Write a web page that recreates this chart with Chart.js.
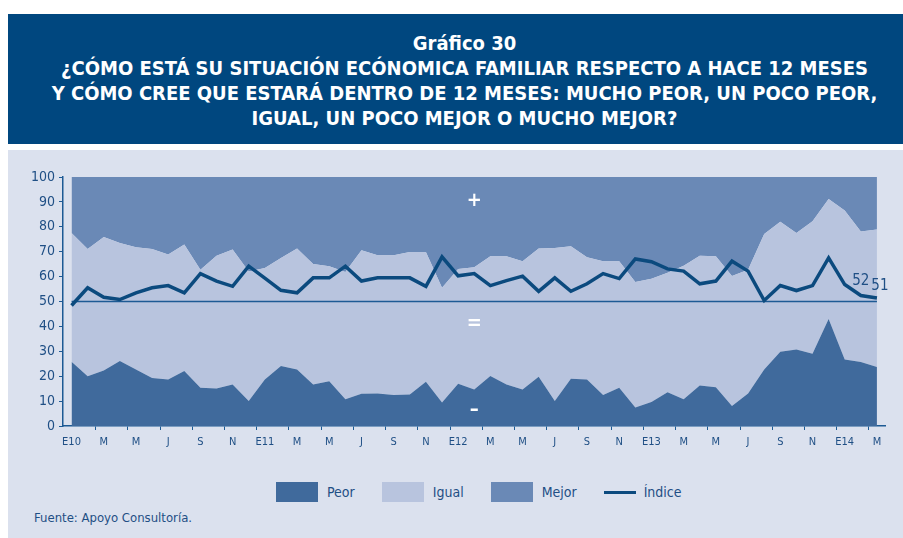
<!DOCTYPE html>
<html>
<head>
<meta charset="utf-8">
<script src="https://cdn.jsdelivr.net/npm/chart.js@4.4.1/dist/chart.umd.min.js"></script>
<style>
  body { margin: 0; background: #ffffff; width: 903px; height: 538px; position: relative; overflow: hidden;
    font-family: "Liberation Sans Narrow", "DejaVu Sans Condensed", "Roboto", sans-serif; font-stretch: condensed; }
  #titleBox { position: absolute; left: 8px; top: 14px; width: 895px; height: 130px; background: #00477f;
    color: #ffffff; font-weight: bold; font-size: 20px; line-height: 25px; text-align: center;
    box-sizing: border-box; padding: 17px 0 0 18px; }
  #panel { position: absolute; left: 8px; top: 150px; width: 895px; height: 388px; background: #dbe1ee; }
  #chartBox { position: absolute; left: 0; top: 150px; width: 903px; height: 320px; }
  #legend { position: absolute; top: 482px; left: 276px; display: flex; align-items: center; font-size: 14px; color: #1f4f85; }
  .item { display: flex; align-items: center; margin-right: 27px; }
  .swatch { width: 42px; height: 20px; margin-right: 9px; }
  .lineSwatch { width: 32px; height: 3px; margin-right: 8px; }
  #source { position: absolute; left: 34px; top: 510px; font-size: 13px; color: #1f4f85; }
</style>
</head>
<body>
<div id="titleBox">
  Gráfico 30<br>
  ¿CÓMO ESTÁ SU SITUACIÓN ECÓNOMICA FAMILIAR RESPECTO A HACE 12 MESES<br>
  Y CÓMO CREE QUE ESTARÁ DENTRO DE 12 MESES: MUCHO PEOR, UN POCO PEOR,<br>
  IGUAL, UN POCO MEJOR O MUCHO MEJOR?
</div>
<div id="panel"></div>
<div id="chartBox"><canvas id="surveyChart"></canvas></div>
<div id="legend"></div>
<div id="source">Fuente: Apoyo Consultoría.</div>
<script>
// months from January 2010 to March 2014 (E = enero)
const months = [
  'E10','F','M','A','M','J','J','A','S','O','N','D',
  'E11','F','M','A','M','J','J','A','S','O','N','D',
  'E12','F','M','A','M','J','J','A','S','O','N','D',
  'E13','F','M','A','M','J','J','A','S','O','N','D',
  'E14','F','M'
];
// shares of answers, in percent
const peor = [
  25.8, 20.0, 22.3, 26.1, 22.7, 19.3, 18.7, 22.1, 15.4, 15.1, 16.7, 10.0,
  18.7, 24.1, 22.7, 16.7, 18.0, 10.7, 13.0, 13.1, 12.4, 12.7, 17.8, 9.4,
  17.0, 14.7, 20.1, 16.7, 14.7, 19.8, 10.0, 19.0, 18.7, 12.4, 15.4, 7.4,
  9.6, 13.6, 10.7, 16.3, 15.6, 8.0, 13.1, 22.7, 29.8, 30.7, 29.0, 43.0,
  26.7, 25.7, 23.7
];
const igual = [
  51.7, 51.1, 53.6, 47.4, 49.1, 51.8, 50.2, 50.8, 47.4, 53.3, 54.2, 52.0,
  44.8, 43.4, 48.6, 48.4, 46.2, 51.1, 57.6, 55.5, 56.2, 57.2, 52.1, 46.1,
  46.1, 49.1, 48.1, 51.5, 51.5, 51.5, 61.5, 53.2, 49.1, 53.8, 50.8, 50.4,
  49.5, 47.9, 53.7, 52.1, 52.6, 52.2, 49.7, 54.4, 52.2, 46.8, 53.2, 48.2,
  59.8, 52.4, 55.2
];
const mejor = [
  22.5, 28.9, 24.1, 26.5, 28.2, 28.9, 31.1, 27.1, 37.2, 31.6, 29.1, 38.0,
  36.5, 32.5, 28.7, 34.9, 35.8, 38.2, 29.4, 31.4, 31.4, 30.1, 30.1, 44.5,
  36.9, 36.2, 31.8, 31.8, 33.8, 28.7, 28.5, 27.8, 32.2, 33.8, 33.8, 42.2,
  40.9, 38.5, 35.6, 31.6, 31.8, 39.8, 37.2, 22.9, 18.0, 22.5, 17.8, 8.8,
  13.5, 21.9, 21.1
];
const indice = [
  48.4, 55.5, 51.7, 50.8, 53.5, 55.5, 56.4, 53.5, 61.2, 58.2, 56.1, 64.2,
  59.4, 54.5, 53.5, 59.5, 59.5, 64.2, 58.2, 59.5, 59.5, 59.5, 56.1, 67.9,
  60.3, 61.2, 56.4, 58.4, 60.2, 54.1, 59.5, 54.1, 57.1, 61.2, 59.2, 67.1,
  66.0, 63.1, 62.2, 57.1, 58.2, 66.2, 62.2, 50.4, 56.4, 54.4, 56.4, 67.5,
  56.8, 52.4, 51.4
];
const yTicks = [0, 10, 20, 30, 40, 50, 60, 70, 80, 90, 100];
const neutralLevel = 50;
// white signs inside the areas: [text, month index, value]
const signs = [['+', 25, 90.5], ['=', 25, 41.2], ['–', 25, 6.7]];

const seriesNames = ['Peor', 'Igual', 'Mejor', 'Índice'];
const seriesColors = ['#406a9c', '#b8c4de', '#6a89b6', '#0b4a7e'];
const textColor = '#1f4f85';
const fontFamily = '"Liberation Sans Narrow", "DejaVu Sans Condensed", "Roboto", sans-serif';

const toPoints = arr => arr.map((v, i) => ({ x: i, y: v }));

// draws the 50 line under the index line, plus signs and last values
const extrasPlugin = {
  id: 'extras',
  beforeDatasetDraw(chart, args) {
    if (args.index !== 3) return;
    const { ctx, scales: { x, y } } = chart;
    const yy = y.getPixelForValue(neutralLevel);
    ctx.save();
    ctx.strokeStyle = '#1d5a94';
    ctx.lineWidth = 1.3;
    ctx.beginPath();
    ctx.moveTo(x.getPixelForValue(0), yy);
    ctx.lineTo(x.getPixelForValue(months.length - 1), yy);
    ctx.stroke();
    ctx.restore();
  },
  afterDatasetsDraw(chart) {
    const { ctx, scales: { x, y } } = chart;
    ctx.save();
    ctx.textAlign = 'center';
    ctx.textBaseline = 'middle';
    ctx.fillStyle = '#ffffff';
    ctx.font = 'bold 20px ' + fontFamily;
    signs.forEach(s => ctx.fillText(s[0], x.getPixelForValue(s[1]), y.getPixelForValue(s[2])));
    ctx.fillStyle = textColor;
    ctx.font = '15px ' + fontFamily;
    const n = indice.length;
    ctx.fillText(Math.round(indice[n - 2]), x.getPixelForValue(n - 2), y.getPixelForValue(indice[n - 2]) - 14);
    ctx.fillText(Math.round(indice[n - 1]), x.getPixelForValue(n - 1) + 3, y.getPixelForValue(indice[n - 1]) - 12);
    ctx.restore();
  }
};

const areaData = [peor, igual, mejor];
const datasets = areaData.map((arr, i) => ({
  label: seriesNames[i],
  data: toPoints(arr),
  backgroundColor: seriesColors[i],
  borderWidth: 0,
  pointRadius: 0,
  fill: i === 0 ? 'origin' : '-1',
  stack: 'areas',
  tension: 0
}));
datasets.push({
  label: seriesNames[3],
  data: toPoints(indice),
  borderColor: seriesColors[3],
  borderWidth: 3.5,
  pointRadius: 0,
  fill: false,
  stack: 'index',
  tension: 0
});

const surveyChart = new Chart(document.getElementById('surveyChart'), {
  type: 'line',
  data: { datasets },
  options: {
    responsive: true,
    maintainAspectRatio: false,
    animation: false,
    layout: { padding: { top: 27, right: 18, left: 0, bottom: 0 } },
    plugins: {
      legend: { display: false },
      tooltip: { enabled: false },
      filler: { drawTime: 'beforeDatasetsDraw' }
    },
    scales: {
      x: {
        type: 'linear',
        min: -0.53,
        max: 50.5,
        afterFit: s => { s.height = 44; },
        afterBuildTicks: s => {
          const t = [];
          for (let v = 0; v <= months.length - 1; v += 0.5) t.push({ value: v });
          s.ticks = t;
        },
        border: { color: '#1d5a94', width: 1.5 },
        grid: {
          drawOnChartArea: false,
          tickLength: 4,
          tickColor: c => (c.tick && (c.tick.value - 1.5) % 2 === 0) ? '#1d5a94' : 'transparent'
        },
        ticks: {
          autoSkip: false,
          maxRotation: 0,
          padding: 6,
          color: textColor,
          font: { family: fontFamily, size: 11 },
          callback: v => (Number.isInteger(v) && v % 2 === 0) ? months[v] : ''
        }
      },
      y: {
        stacked: true,
        min: 0,
        max: 100,
        afterFit: s => { s.width = 63; },
        afterBuildTicks: s => { s.ticks = yTicks.map(v => ({ value: v })); },
        border: { color: '#1d5a94', width: 1.5 },
        grid: { drawOnChartArea: false, tickLength: 4, tickColor: '#1d5a94' },
        ticks: {
          padding: 4,
          color: textColor,
          font: { family: fontFamily, size: 14 }
        }
      }
    }
  },
  plugins: [extrasPlugin]
});

// legend built from the series names and colours
const legend = document.getElementById('legend');
seriesNames.forEach((name, i) => {
  const item = document.createElement('div');
  item.className = 'item';
  const sw = document.createElement('div');
  sw.className = i === 3 ? 'lineSwatch' : 'swatch';
  sw.style.background = seriesColors[i];
  const label = document.createElement('span');
  label.innerText = name;
  item.appendChild(sw);
  item.appendChild(label);
  legend.appendChild(item);
});
</script>
</body>
</html>
